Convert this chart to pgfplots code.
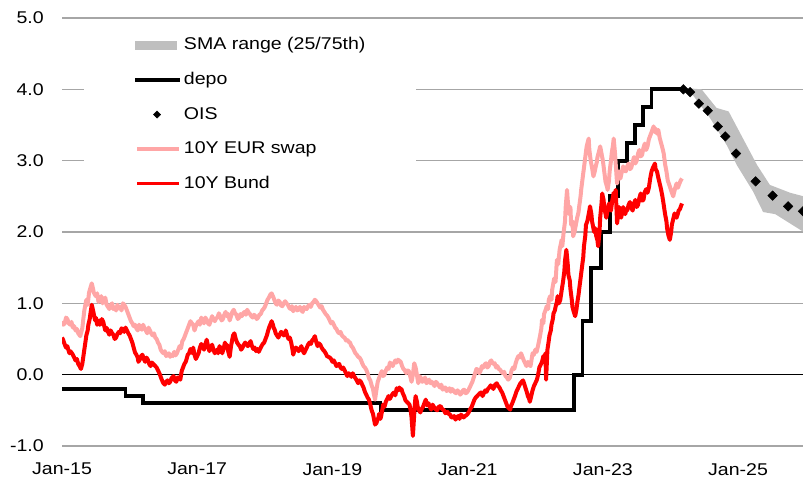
\documentclass[border=0pt]{standalone}
\usepackage{fontspec}
\setmainfont{Liberation Sans}[FakeStretch=1.15]
\usepackage{pgfplots}
\pgfplotsset{compat=1.18}
\definecolor{swapc}{RGB}{255,166,166}
\definecolor{bandc}{RGB}{191,191,191}
\definecolor{gridc}{RGB}{166,166,166}
\begin{document}
\fontsize{17bp}{20bp}\selectfont
\begin{tikzpicture}
\begin{axis}[
  scale only axis, width=741bp, height=428bp,
  xmin=2015, xmax=2025.96, ymin=-1, ymax=5,
  axis line style={draw=none},
  major tick length=0pt,
  xtick={2015,2017,2019,2021,2023,2025},
  xticklabels={Jan-15,Jan-17,Jan-19,Jan-21,Jan-23,Jan-25},
  ytick={-1,0,1,2,3,4,5},
  yticklabels={-1.0,0.0,1.0,2.0,3.0,4.0,5.0},
  ymajorgrids, major grid style={gridc, line width=1.2bp},
  extra y ticks={0}, extra y tick labels={},
  extra y tick style={major grid style={black, line width=1.1bp}},
  yticklabel style={anchor=east, inner sep=0pt, xshift=-18bp},
  xticklabel style={anchor=north, inner sep=0pt, yshift=-17bp},
  clip=true,
  legend cell align=left,
  legend style={at={(rel axis cs:0.0297,0.978)}, anchor=north west, fill=white, draw=none,
    inner xsep=49bp, inner ysep=8bp, row sep=16bp, font=\fontsize{17bp}{20bp}\selectfont},
]
% SMA range band
\addplot[draw=none, fill=bandc, legend image code/.code={\fill[bandc] (0bp,-4.5bp) rectangle (42bp,4.5bp);}] coordinates {
(2024.19,4.02)(2024.46,4.00)(2024.68,3.74)(2024.86,3.69)(2025.28,2.94)(2025.47,2.66)(2025.77,2.55)(2025.97,2.50)
(2025.97,2.00)(2025.55,2.25)(2025.37,2.28)(2025.22,2.57)(2024.98,2.94)(2024.83,3.22)(2024.59,3.59)(2024.33,3.92)(2024.19,3.98)
};
\addlegendentry{SMA range (25/75th)}
% depo
\addplot[const plot, black, line width=3.8bp, legend image code/.code={\draw[black, line width=3.8bp] (0bp,0) -- (45bp,0);}] coordinates {
(2015.00,-0.20)(2015.94,-0.30)(2016.20,-0.40)(2019.71,-0.50)(2022.57,0.00)(2022.70,0.75)(2022.83,1.50)(2022.97,2.00)
(2023.11,2.50)(2023.22,3.00)(2023.36,3.25)(2023.47,3.50)(2023.59,3.75)(2023.72,4.00)(2024.19,4.00)
};
\addlegendentry{depo}
% OIS
\addplot[only marks, mark=square*, mark size=3.4bp, mark options={rotate=45, fill=black, draw=black},
  legend image code/.code={\fill[black] (22bp,3.6bp) -- (25.6bp,0) -- (22bp,-3.6bp) -- (18.4bp,0) -- cycle;}] coordinates {
(2024.19,4.00)(2024.29,3.96)(2024.42,3.80)(2024.55,3.70)(2024.70,3.48)(2024.81,3.34)(2024.97,3.10)
(2025.26,2.71)(2025.51,2.51)(2025.74,2.36)(2025.96,2.29)
};
\addlegendentry{OIS}
% 10Y EUR swap
\addplot[swapc, line width=4bp, line join=round, legend image code/.code={\draw[swapc, line width=3.8bp] (2bp,0) -- (44bp,0);}] coordinates {
(2015.00,0.75)(2015.02,0.70)(2015.04,0.72)(2015.06,0.80)(2015.08,0.78)(2015.10,0.72)(2015.12,0.70)(2015.14,0.74)(2015.16,0.66)(2015.18,0.68)(2015.20,0.62)(2015.22,0.64)(2015.24,0.58)(2015.27,0.54)
(2015.30,0.65)(2015.33,0.90)(2015.36,1.05)(2015.38,0.98)(2015.40,1.15)(2015.44,1.28)(2015.46,1.20)(2015.47,1.15)(2015.50,1.10)(2015.52,1.14)(2015.54,1.02)
(2015.56,1.06)(2015.58,1.10)(2015.60,1.00)(2015.62,1.05)(2015.64,1.08)(2015.66,0.98)(2015.68,0.95)(2015.70,0.92)(2015.72,0.97)(2015.74,1.00)(2015.76,0.92)(2015.78,0.94)(2015.80,0.90)(2015.82,0.98)(2015.84,0.93)(2015.86,0.95)
(2015.88,0.90)(2015.90,1.00)(2015.92,0.98)(2015.94,0.95)(2015.96,0.90)(2015.98,0.85)(2016.00,0.80)(2016.02,0.75)(2016.04,0.72)(2016.06,0.68)(2016.08,0.70)(2016.10,0.65)(2016.12,0.62)(2016.14,0.70)(2016.16,0.66)(2016.18,0.63)
(2016.20,0.70)(2016.22,0.65)(2016.24,0.62)(2016.26,0.58)(2016.28,0.66)(2016.30,0.62)(2016.32,0.58)(2016.34,0.55)(2016.36,0.58)(2016.38,0.52)(2016.40,0.50)(2016.42,0.45)(2016.44,0.42)(2016.46,0.35)(2016.48,0.32)(2016.50,0.30)
(2016.52,0.33)(2016.54,0.26)(2016.56,0.28)(2016.58,0.30)(2016.60,0.25)(2016.62,0.28)(2016.64,0.26)(2016.66,0.32)(2016.68,0.27)(2016.70,0.30)(2016.72,0.35)(2016.74,0.40)(2016.76,0.37)(2016.78,0.47)(2016.80,0.50)(2016.82,0.55)
(2016.84,0.60)(2016.86,0.65)(2016.88,0.70)(2016.90,0.75)(2016.92,0.72)(2016.94,0.70)(2016.96,0.62)(2016.98,0.68)(2017.00,0.72)(2017.02,0.75)(2017.04,0.70)(2017.06,0.80)(2017.08,0.76)(2017.10,0.72)(2017.12,0.80)(2017.14,0.77)
(2017.16,0.72)(2017.18,0.70)(2017.20,0.76)(2017.22,0.82)(2017.24,0.78)(2017.26,0.75)(2017.28,0.79)(2017.30,0.80)(2017.32,0.86)(2017.34,0.82)(2017.36,0.76)(2017.38,0.78)(2017.40,0.84)(2017.42,0.88)(2017.44,0.82)(2017.46,0.85)
(2017.48,0.76)(2017.50,0.82)(2017.52,0.88)(2017.54,0.91)(2017.56,0.86)(2017.58,0.84)(2017.60,0.78)(2017.62,0.80)(2017.64,0.85)(2017.66,0.82)(2017.68,0.86)(2017.70,0.88)(2017.72,0.84)(2017.74,0.91)(2017.76,0.87)(2017.78,0.85)
(2017.80,0.82)(2017.82,0.80)(2017.84,0.84)(2017.86,0.82)(2017.88,0.78)(2017.90,0.80)(2017.92,0.84)(2017.94,0.85)(2017.96,0.90)(2017.98,0.92)(2018.00,0.95)(2018.02,1.00)(2018.04,1.05)(2018.06,1.08)(2018.08,1.12)(2018.10,1.14)
(2018.12,1.10)(2018.14,1.05)(2018.16,1.00)(2018.18,0.98)(2018.20,1.04)(2018.22,1.02)(2018.24,0.97)(2018.26,0.96)(2018.28,1.00)(2018.30,1.03)(2018.32,1.00)(2018.34,0.98)(2018.36,0.94)(2018.38,0.92)(2018.40,0.96)(2018.42,0.89)
(2018.44,0.92)(2018.46,0.95)(2018.48,0.90)(2018.50,0.92)(2018.52,0.95)(2018.54,0.90)(2018.56,0.88)(2018.58,0.95)(2018.60,0.93)(2018.62,0.92)(2018.64,0.96)(2018.66,0.98)(2018.68,0.95)(2018.70,1.00)(2018.72,1.02)(2018.74,1.05)
(2018.76,1.03)(2018.78,1.00)(2018.80,0.97)(2018.82,0.94)(2018.84,0.96)(2018.86,0.91)(2018.88,0.88)(2018.90,0.85)(2018.92,0.83)(2018.94,0.80)(2018.96,0.76)(2018.98,0.72)(2019.00,0.74)(2019.02,0.70)(2019.04,0.66)(2019.06,0.64)
(2019.08,0.60)(2019.10,0.58)(2019.12,0.60)(2019.14,0.55)(2019.16,0.53)(2019.18,0.52)(2019.20,0.48)(2019.22,0.49)(2019.24,0.46)(2019.26,0.45)(2019.28,0.40)(2019.30,0.38)(2019.32,0.34)(2019.34,0.30)(2019.36,0.28)(2019.38,0.25)
(2019.40,0.24)(2019.42,0.21)(2019.44,0.16)(2019.46,0.12)(2019.48,0.10)(2019.50,0.07)(2019.52,0.02)(2019.54,-0.05)(2019.56,-0.08)(2019.58,-0.15)(2019.60,-0.20)(2019.61,-0.26)(2019.63,-0.35)(2019.65,-0.22)(2019.67,-0.10)
(2019.70,-0.02)(2019.73,0.05)(2019.75,-0.02)(2019.77,0.00)(2019.79,0.06)(2019.81,0.10)(2019.83,0.08)(2019.85,0.17)(2019.87,0.15)(2019.89,0.12)(2019.91,0.16)(2019.93,0.20)(2019.95,0.17)(2019.97,0.21)
(2020.01,0.18)(2020.03,0.12)(2020.05,0.08)(2020.07,0.06)(2020.09,0.02)(2020.11,0.06)(2020.13,0.05)(2020.15,-0.02)(2020.17,-0.10)(2020.19,0.00)(2020.21,0.16)(2020.23,0.10)(2020.24,0.05)
(2020.27,-0.12)(2020.29,-0.02)(2020.31,-0.05)(2020.33,-0.10)(2020.35,-0.08)(2020.37,-0.04)(2020.39,-0.12)(2020.41,-0.10)(2020.43,-0.07)(2020.45,-0.12)(2020.47,-0.10)(2020.49,-0.13)(2020.51,-0.16)(2020.53,-0.10)(2020.55,-0.12)
(2020.57,-0.15)(2020.59,-0.18)(2020.61,-0.14)(2020.63,-0.21)(2020.65,-0.19)(2020.67,-0.18)(2020.69,-0.23)(2020.71,-0.21)(2020.73,-0.19)(2020.75,-0.24)(2020.77,-0.20)(2020.79,-0.22)(2020.81,-0.25)(2020.83,-0.26)(2020.85,-0.22)(2020.87,-0.24)
(2020.89,-0.28)(2020.91,-0.26)(2020.93,-0.22)(2020.95,-0.21)(2020.97,-0.26)(2020.99,-0.25)(2021.01,-0.22)(2021.03,-0.18)(2021.05,-0.14)(2021.07,-0.10)(2021.09,-0.04)(2021.11,0.02)(2021.13,0.08)(2021.15,0.07)(2021.17,0.02)(2021.19,0.05)
(2021.21,0.12)(2021.23,0.10)(2021.25,0.14)(2021.27,0.16)(2021.29,0.10)(2021.31,0.12)(2021.33,0.18)(2021.35,0.20)(2021.37,0.15)(2021.40,0.16)(2021.42,0.10)(2021.44,0.12)(2021.46,0.08)(2021.48,0.07)(2021.50,0.04)(2021.52,0.02)
(2021.54,0.04)(2021.56,-0.02)(2021.58,-0.04)(2021.60,-0.07)(2021.62,-0.05)(2021.63,-0.02)(2021.65,0.06)(2021.67,0.10)(2021.69,0.08)(2021.71,0.16)(2021.73,0.22)(2021.75,0.26)(2021.77,0.24)(2021.79,0.30)(2021.81,0.25)(2021.83,0.20)
(2021.85,0.16)(2021.87,0.12)(2021.89,0.18)(2021.90,0.15)(2021.93,0.12)(2021.96,0.30)(2021.98,0.28)(2022.00,0.35)(2022.02,0.32)(2022.04,0.40)(2022.07,0.54)(2022.09,0.65)(2022.10,0.77)(2022.12,0.72)
(2022.13,0.85)(2022.15,0.90)(2022.17,0.96)(2022.19,0.92)(2022.20,1.05)(2022.22,1.10)(2022.24,1.05)(2022.25,1.19)(2022.28,1.35)(2022.30,1.30)(2022.32,1.61)(2022.34,1.55)(2022.36,1.75)
(2022.39,1.89)(2022.40,1.80)(2022.42,2.00)(2022.44,2.15)(2022.45,2.35)(2022.47,2.59)(2022.48,2.45)(2022.50,2.25)(2022.52,2.35)(2022.53,2.10)(2022.55,2.15)(2022.56,1.94)(2022.58,2.00)(2022.59,2.05)
(2022.61,2.15)(2022.62,2.20)(2022.64,2.28)(2022.65,2.36)(2022.67,2.50)(2022.68,2.60)(2022.70,2.75)(2022.72,2.90)(2022.74,3.05)(2022.76,3.20)(2022.79,3.31)(2022.80,3.15)(2022.82,3.00)(2022.84,2.90)(2022.86,2.78)
(2022.88,2.85)(2022.89,2.90)(2022.91,2.98)(2022.92,3.05)(2022.94,3.12)(2022.96,3.20)(2022.98,3.10)(2023.00,3.00)(2023.02,2.85)(2023.04,2.70)(2023.06,2.64)(2023.07,2.59)(2023.09,2.72)(2023.10,2.85)(2023.12,3.00)(2023.13,3.10)
(2023.15,3.22)(2023.16,3.31)(2023.18,3.10)(2023.19,2.95)(2023.21,2.68)(2023.23,2.80)(2023.24,2.85)(2023.26,2.75)(2023.27,2.80)(2023.29,2.88)(2023.30,2.92)(2023.32,2.86)(2023.34,2.85)(2023.36,2.92)(2023.38,2.96)
(2023.40,2.88)(2023.42,2.90)(2023.44,2.98)(2023.46,3.05)(2023.48,2.96)(2023.50,3.00)(2023.52,3.10)(2023.54,3.15)(2023.56,3.06)(2023.58,3.08)(2023.60,3.18)(2023.62,3.24)(2023.64,3.15)(2023.66,3.20)(2023.68,3.30)(2023.70,3.35)
(2023.72,3.40)(2023.75,3.48)(2023.77,3.40)(2023.78,3.45)(2023.80,3.38)(2023.82,3.43)(2023.84,3.32)(2023.86,3.25)(2023.88,3.18)(2023.90,3.10)(2023.92,2.95)(2023.94,2.85)(2023.96,2.72)(2023.99,2.64)(2024.01,2.58)(2024.04,2.50)
(2024.06,2.58)(2024.07,2.62)(2024.09,2.68)(2024.11,2.62)(2024.12,2.65)(2024.15,2.72)(2024.17,2.75)
};
\addlegendentry{10Y EUR swap}
% 10Y Bund
\addplot[red, line width=4bp, line join=round, legend image code/.code={\draw[red, line width=3.8bp] (2bp,0) -- (44bp,0);}] coordinates {
(2015.00,0.52)(2015.02,0.48)(2015.03,0.45)(2015.05,0.40)(2015.06,0.38)(2015.08,0.40)(2015.09,0.36)(2015.11,0.30)(2015.12,0.33)(2015.14,0.31)(2015.16,0.28)(2015.18,0.24)(2015.20,0.20)(2015.22,0.22)(2015.24,0.15)(2015.26,0.12)
(2015.28,0.08)(2015.30,0.15)(2015.33,0.35)(2015.35,0.48)(2015.36,0.55)(2015.38,0.62)(2015.39,0.70)(2015.41,0.78)(2015.42,0.85)(2015.44,0.98)(2015.46,0.90)(2015.47,0.85)
(2015.49,0.76)(2015.50,0.80)(2015.52,0.70)(2015.53,0.72)(2015.55,0.76)(2015.56,0.70)(2015.58,0.72)(2015.59,0.78)(2015.61,0.74)(2015.62,0.70)(2015.64,0.62)(2015.65,0.66)(2015.67,0.64)(2015.68,0.60)(2015.70,0.56)(2015.72,0.62)
(2015.74,0.58)(2015.76,0.56)(2015.78,0.50)(2015.80,0.52)(2015.82,0.57)(2015.84,0.60)(2015.86,0.58)(2015.88,0.65)(2015.90,0.63)(2015.92,0.60)(2015.94,0.66)(2015.96,0.62)(2015.98,0.58)(2016.00,0.55)(2016.02,0.50)(2016.04,0.45)
(2016.06,0.38)(2016.08,0.31)(2016.10,0.28)(2016.12,0.24)(2016.13,0.18)(2016.15,0.21)(2016.17,0.26)(2016.19,0.28)(2016.21,0.22)(2016.23,0.18)(2016.25,0.24)(2016.27,0.21)(2016.29,0.15)(2016.31,0.12)(2016.33,0.17)(2016.35,0.15)
(2016.38,0.12)(2016.40,0.10)(2016.42,0.06)(2016.44,0.02)(2016.46,-0.03)(2016.48,-0.08)(2016.50,-0.12)(2016.52,-0.14)(2016.54,-0.10)(2016.56,-0.08)(2016.58,-0.12)(2016.60,-0.10)(2016.62,-0.05)(2016.65,-0.02)(2016.67,-0.08)(2016.69,-0.10)
(2016.71,-0.04)(2016.73,-0.05)(2016.75,-0.07)(2016.77,0.05)(2016.79,0.10)(2016.81,0.15)(2016.83,0.18)(2016.84,0.21)(2016.86,0.28)(2016.88,0.30)(2016.90,0.36)(2016.91,0.35)(2016.93,0.30)(2016.94,0.38)(2016.96,0.28)(2016.98,0.22)
(2017.00,0.26)(2017.02,0.30)(2017.04,0.38)(2017.06,0.43)(2017.08,0.40)(2017.10,0.35)(2017.12,0.42)(2017.14,0.49)(2017.16,0.40)(2017.18,0.33)(2017.20,0.38)(2017.22,0.42)(2017.24,0.35)(2017.26,0.30)(2017.28,0.33)(2017.29,0.35)
(2017.31,0.30)(2017.33,0.40)(2017.35,0.36)(2017.37,0.30)(2017.39,0.36)(2017.41,0.45)(2017.43,0.38)(2017.44,0.42)(2017.46,0.32)(2017.48,0.25)(2017.50,0.40)(2017.52,0.50)(2017.53,0.55)(2017.55,0.58)(2017.57,0.50)(2017.59,0.45)
(2017.61,0.42)(2017.63,0.40)(2017.65,0.35)(2017.67,0.38)(2017.69,0.42)(2017.71,0.45)(2017.73,0.42)(2017.75,0.40)(2017.77,0.44)(2017.79,0.47)(2017.81,0.40)(2017.83,0.36)(2017.85,0.38)(2017.87,0.33)(2017.89,0.36)(2017.91,0.32)
(2017.93,0.36)(2017.95,0.40)(2017.97,0.43)(2017.99,0.45)(2018.01,0.50)(2018.03,0.55)(2018.05,0.62)(2018.07,0.68)(2018.09,0.72)(2018.10,0.75)(2018.12,0.70)(2018.13,0.66)(2018.15,0.62)(2018.16,0.58)(2018.18,0.55)(2018.20,0.52)
(2018.22,0.56)(2018.24,0.60)(2018.26,0.58)(2018.28,0.55)(2018.30,0.58)(2018.31,0.62)(2018.33,0.55)(2018.35,0.50)(2018.37,0.52)(2018.39,0.45)(2018.41,0.35)(2018.42,0.28)(2018.44,0.35)(2018.46,0.38)(2018.48,0.36)(2018.50,0.33)
(2018.52,0.36)(2018.54,0.40)(2018.56,0.34)(2018.58,0.30)(2018.60,0.34)(2018.62,0.38)(2018.64,0.42)(2018.66,0.45)(2018.68,0.43)(2018.70,0.48)(2018.72,0.50)(2018.74,0.54)(2018.76,0.46)(2018.78,0.40)(2018.80,0.44)(2018.82,0.42)
(2018.84,0.38)(2018.86,0.35)(2018.88,0.33)(2018.90,0.30)(2018.92,0.26)(2018.94,0.25)(2018.96,0.24)(2018.98,0.22)(2019.00,0.18)(2019.02,0.20)(2019.04,0.16)(2019.06,0.12)(2019.08,0.14)(2019.10,0.15)(2019.12,0.10)(2019.14,0.08)
(2019.16,0.10)(2019.18,0.06)(2019.20,0.02)(2019.22,-0.02)(2019.24,0.02)(2019.26,0.00)(2019.28,-0.03)(2019.30,0.02)(2019.32,-0.02)(2019.34,-0.05)(2019.36,-0.08)(2019.38,-0.12)(2019.40,-0.08)(2019.42,-0.10)(2019.44,-0.14)(2019.46,-0.18)
(2019.48,-0.24)(2019.50,-0.28)(2019.52,-0.32)(2019.54,-0.35)(2019.56,-0.42)(2019.58,-0.50)(2019.60,-0.55)(2019.61,-0.60)(2019.63,-0.70)(2019.65,-0.68)(2019.66,-0.65)(2019.68,-0.60)(2019.69,-0.55)(2019.71,-0.62)(2019.72,-0.58)
(2019.74,-0.48)(2019.75,-0.42)(2019.77,-0.45)(2019.79,-0.38)(2019.81,-0.34)(2019.83,-0.30)(2019.85,-0.34)(2019.87,-0.30)(2019.89,-0.27)(2019.91,-0.25)(2019.93,-0.29)(2019.95,-0.19)(2019.97,-0.22)(2019.99,-0.18)(2020.01,-0.22)(2020.02,-0.20)
(2020.04,-0.26)(2020.06,-0.30)(2020.08,-0.36)(2020.10,-0.38)(2020.12,-0.40)(2020.14,-0.42)(2020.16,-0.52)(2020.17,-0.60)(2020.19,-0.86)(2020.21,-0.55)(2020.22,-0.40)(2020.23,-0.30)(2020.25,-0.38)(2020.26,-0.45)
(2020.28,-0.50)(2020.30,-0.53)(2020.32,-0.48)(2020.34,-0.45)(2020.36,-0.40)(2020.38,-0.35)(2020.40,-0.43)(2020.42,-0.40)(2020.44,-0.45)(2020.46,-0.49)(2020.48,-0.42)(2020.50,-0.45)(2020.52,-0.48)(2020.55,-0.50)(2020.57,-0.45)(2020.60,-0.44)
(2020.62,-0.48)(2020.65,-0.50)(2020.67,-0.54)(2020.70,-0.52)(2020.72,-0.55)(2020.74,-0.56)(2020.76,-0.60)(2020.78,-0.60)(2020.80,-0.58)(2020.82,-0.63)(2020.84,-0.60)(2020.86,-0.58)(2020.88,-0.62)(2020.90,-0.56)(2020.92,-0.58)(2020.94,-0.60)
(2020.96,-0.58)(2020.98,-0.57)(2021.00,-0.55)(2021.02,-0.52)(2021.04,-0.48)(2021.06,-0.45)(2021.08,-0.40)(2021.10,-0.35)(2021.12,-0.32)(2021.14,-0.30)(2021.16,-0.28)(2021.18,-0.26)(2021.20,-0.25)(2021.22,-0.30)(2021.24,-0.26)(2021.26,-0.22)
(2021.28,-0.24)(2021.30,-0.20)(2021.32,-0.18)(2021.34,-0.15)(2021.36,-0.17)(2021.38,-0.20)(2021.40,-0.15)(2021.43,-0.12)(2021.45,-0.16)(2021.47,-0.18)(2021.49,-0.22)(2021.51,-0.25)(2021.53,-0.30)(2021.55,-0.35)(2021.57,-0.40)(2021.59,-0.45)
(2021.61,-0.47)(2021.63,-0.49)(2021.64,-0.44)(2021.66,-0.40)(2021.68,-0.35)(2021.70,-0.30)(2021.72,-0.24)(2021.74,-0.20)(2021.76,-0.16)(2021.78,-0.12)(2021.80,-0.10)(2021.82,-0.08)(2021.84,-0.14)(2021.86,-0.20)(2021.88,-0.26)(2021.89,-0.30)
(2021.91,-0.34)(2021.92,-0.38)(2021.94,-0.30)(2021.96,-0.22)(2021.98,-0.16)(2022.00,-0.12)(2022.02,-0.08)(2022.03,-0.05)(2022.05,0.04)(2022.06,0.10)(2022.08,0.14)(2022.10,0.18)(2022.12,0.26)(2022.14,0.22)(2022.15,0.30)
(2022.16,-0.07)(2022.18,0.35)(2022.20,0.48)(2022.21,0.55)(2022.23,0.62)(2022.24,0.70)(2022.26,0.78)(2022.27,0.86)(2022.29,0.90)(2022.30,0.95)(2022.32,1.02)(2022.33,1.10)(2022.35,1.00)(2022.37,1.05)
(2022.39,1.18)(2022.41,1.30)(2022.43,1.45)(2022.44,1.60)(2022.46,1.75)(2022.48,1.55)(2022.49,1.40)(2022.51,1.32)(2022.52,1.20)(2022.54,1.05)(2022.55,0.95)(2022.57,0.88)(2022.59,0.82)(2022.61,0.92)(2022.62,1.00)
(2022.64,1.12)(2022.65,1.20)(2022.67,1.35)(2022.69,1.50)(2022.71,1.65)(2022.72,1.80)(2022.74,1.95)(2022.75,2.10)(2022.77,2.15)(2022.78,2.20)(2022.80,2.30)(2022.81,2.36)(2022.83,2.25)(2022.84,2.15)(2022.86,2.05)(2022.87,2.00)
(2022.89,2.05)(2022.90,1.95)(2022.92,1.88)(2022.93,1.80)(2022.95,2.00)(2022.96,2.20)(2022.98,2.40)(2022.99,2.54)(2023.01,2.45)(2023.02,2.35)(2023.04,2.25)(2023.05,2.20)(2023.07,2.30)(2023.09,2.40)(2023.10,2.35)(2023.12,2.30)
(2023.14,2.45)(2023.16,2.55)(2023.17,2.50)(2023.19,2.59)(2023.20,2.35)(2023.21,2.12)(2023.23,2.28)(2023.24,2.35)(2023.26,2.25)(2023.27,2.20)(2023.29,2.30)(2023.30,2.35)(2023.32,2.28)(2023.33,2.25)(2023.35,2.32)(2023.36,2.30)
(2023.38,2.38)(2023.40,2.42)(2023.42,2.34)(2023.44,2.30)(2023.46,2.40)(2023.48,2.45)(2023.50,2.35)(2023.52,2.38)(2023.54,2.48)(2023.56,2.54)(2023.58,2.44)(2023.60,2.45)(2023.62,2.56)(2023.64,2.60)(2023.66,2.55)(2023.68,2.62)
(2023.70,2.75)(2023.72,2.85)(2023.74,2.90)(2023.77,2.96)(2023.78,2.88)(2023.80,2.85)(2023.82,2.76)(2023.84,2.68)(2023.86,2.60)(2023.88,2.50)(2023.90,2.38)(2023.92,2.25)(2023.94,2.15)(2023.95,2.05)(2023.97,1.95)(2023.99,1.89)
(2024.01,2.00)(2024.02,2.10)(2024.04,2.18)(2024.06,2.26)(2024.08,2.22)(2024.09,2.20)(2024.11,2.26)(2024.12,2.30)(2024.14,2.32)(2024.15,2.35)(2024.17,2.40)
};
\addlegendentry{10Y Bund}
\end{axis}
\pgfresetboundingbox
\path[use as bounding box] ([shift={(-62bp,-32bp)}]current axis.south west) rectangle ([shift={(0bp,18bp)}]current axis.north east);
\end{tikzpicture}
\end{document}
